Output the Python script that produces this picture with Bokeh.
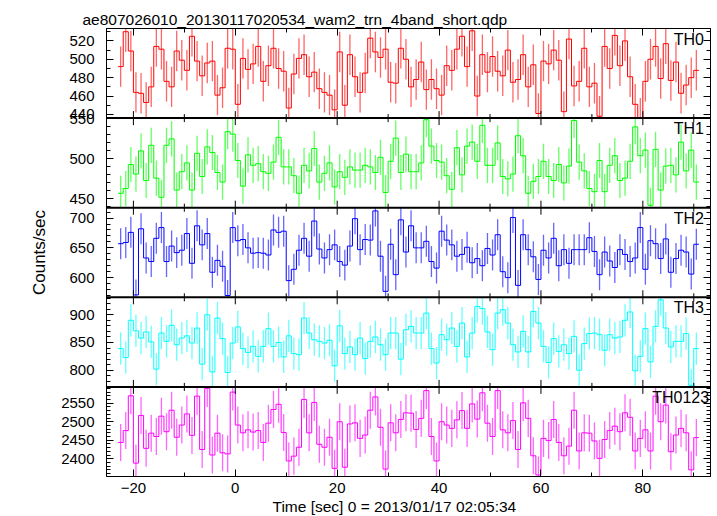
import numpy as np
from bokeh.plotting import figure
from bokeh.models import (Range1d, FixedTicker, LinearAxis, Label, Span, Title,
                          CustomJSTickFormatter)
from bokeh.embed import file_html
from bokeh.resources import INLINE

TITLE = "ae807026010_20130117020534_wam2_trn_4band_short.qdp"
X_LABEL = "Time [sec] 0 = 2013/01/17 02:05:34"
Y_LABEL = "Counts/sec"

# time bins (1 s wide, starting at -23 s)
bin_start = -23.0
bin_width = 1.0

panel_names = ["TH0", "TH1", "TH2", "TH3", "TH0123"]

th0 = [492, 530, 509, 464, 463, 453, 470, 514, 511, 476,
       470, 509, 499, 488, 525, 498, 482, 496, 498, 461,
       469, 512, 511, 451, 501, 489, 495, 514, 476, 493,
       512, 490, 487, 447, 484, 501, 505, 481, 486, 468,
       464, 461, 445, 508, 450, 505, 481, 464, 485, 523,
       508, 502, 511, 475, 474, 512, 500, 470, 478, 497,
       467, 478, 468, 461, 493, 488, 511, 525, 492, 531,
       460, 505, 486, 503, 487, 482, 510, 475, 478, 505,
       470, 494, 441, 498, 495, 510, 499, 443, 522, 471,
       476, 512, 470, 474, 438, 514, 490, 526, 493, 520,
       481, 451, 436, 476, 500, 514, 479, 517, 477, 497,
       463, 472, 480, 488]

th1 = [457, 463, 493, 481, 510, 473, 517, 476, 452, 517,
       525, 461, 484, 495, 461, 507, 478, 515, 508, 483,
       471, 534, 531, 498, 466, 505, 492, 494, 484, 482,
       496, 527, 490, 490, 479, 457, 492, 485, 513, 471,
       482, 495, 465, 484, 477, 490, 486, 486, 492, 490,
       483, 502, 458, 497, 526, 483, 506, 484, 484, 495,
       549, 516, 498, 496, 479, 462, 514, 480, 516, 521,
       497, 542, 492, 492, 520, 478, 475, 481, 529, 504,
       457, 472, 478, 497, 478, 473, 493, 470, 491, 548,
       496, 485, 463, 459, 498, 459, 492, 504, 473, 476,
       497, 540, 504, 511, 442, 512, 461, 491, 492, 480,
       521, 485, 511, 471]

th2 = [657, 659, 676, 571, 682, 633, 627, 666, 684, 627,
       653, 642, 646, 674, 624, 687, 655, 674, 609, 629,
       619, 570, 684, 662, 664, 650, 641, 642, 641, 638,
       680, 676, 678, 595, 614, 646, 666, 636, 695, 648,
       633, 647, 655, 627, 621, 653, 699, 647, 664, 663,
       712, 636, 577, 656, 605, 697, 643, 687, 650, 650,
       661, 627, 616, 678, 663, 655, 636, 639, 651, 625,
       632, 620, 649, 638, 672, 610, 600, 701, 587, 672,
       647, 635, 597, 646, 633, 666, 620, 647, 624, 647,
       647, 647, 667, 644, 605, 643, 628, 617, 647, 639,
       627, 633, 684, 614, 662, 657, 632, 665, 609, 632,
       646, 643, 606, 656]

th3 = [839, 823, 890, 871, 858, 869, 851, 802, 867, 852,
       881, 846, 858, 862, 849, 876, 811, 900, 797, 894,
       857, 796, 849, 878, 839, 832, 843, 825, 843, 875,
       843, 850, 824, 862, 830, 828, 894, 867, 855, 852,
       849, 854, 808, 880, 830, 842, 828, 858, 821, 852,
       860, 846, 828, 867, 867, 820, 873, 879, 867, 867,
       903, 839, 813, 864, 855, 876, 843, 885, 824, 867,
       915, 911, 869, 837, 903, 909, 885, 846, 833, 870,
       833, 906, 885, 843, 814, 857, 834, 846, 830, 861,
       800, 848, 866, 867, 864, 836, 864, 858, 860, 890,
       905, 799, 825, 875, 815, 879, 927, 876, 842, 852,
       852, 866, 773, 839]

th0123 = [2444, 2476, 2570, 2388, 2517, 2428, 2469, 2460, 2515, 2473,
          2531, 2458, 2491, 2521, 2463, 2569, 2425, 2590, 2410, 2469,
          2416, 2413, 2580, 2491, 2470, 2478, 2472, 2476, 2444, 2496,
          2533, 2547, 2471, 2394, 2407, 2431, 2560, 2470, 2552, 2439,
          2431, 2458, 2374, 2500, 2377, 2494, 2497, 2455, 2464, 2531,
          2567, 2485, 2372, 2497, 2470, 2506, 2524, 2523, 2479, 2509,
          2584, 2460, 2394, 2500, 2491, 2482, 2505, 2530, 2482, 2548,
          2507, 2578, 2496, 2460, 2584, 2478, 2470, 2503, 2425, 2551,
          2509, 2408, 2356, 2455, 2449, 2506, 2444, 2408, 2434, 2531,
          2421, 2470, 2469, 2448, 2401, 2452, 2476, 2488, 2473, 2524,
          2512, 2421, 2455, 2478, 2421, 2569, 2500, 2545, 2419, 2464,
          2482, 2470, 2370, 2457]

# half-length of the error bars
errors = [22, 22, 26, 29, 50]

y_limits = [(436, 533.5), (439, 551), (567, 717.4), (770, 931.4), (2352, 2594)]
y_major = [[440, 460, 480, 500, 520], [450, 500, 550], [600, 650, 700],
           [800, 850, 900], [2400, 2450, 2500, 2550]]
y_minor_step = 10
x_major = [-20, 0, 20, 40, 60, 80]
x_minor = [-20, -10, 0, 10, 20, 30, 40, 50, 60, 70, 80, 90]
x_limits = (-25.28, 93.28)

colors = ["#ff0000", "#00ff00", "#0000ff", "#00ffff", "#ff00ff"]
series = [th0, th1, th2, th3, th0123]
label_x = [92.0, 92.0, 92.0, 92.0, 93.0]

FONT = "Liberation Sans"
W, H = 717, 516
B_LEFT, B_RIGHT, B_TOP, B_BOTTOM = 106, 7, 28, 40
n = len(series)
band_px = (H - B_TOP - B_BOTTOM) / n
MAJ_IN, MIN_IN = 7, 4

p = figure(width=W, height=H, x_range=Range1d(*x_limits), y_range=Range1d(0, n),
           output_backend="svg", toolbar_location=None,
           x_axis_location=None, y_axis_location=None,
           min_border_left=B_LEFT, min_border_right=B_RIGHT,
           min_border_top=B_TOP, min_border_bottom=B_BOTTOM)
p.grid.visible = False
p.outline_line_color = "black"
p.outline_line_width = 1
p.background_fill_color = "white"
p.border_fill_color = "white"

# each panel gets its own y range so that it fills one horizontal band
extra = {}
for i in range(n):
    lo, hi = y_limits[i]
    span = hi - lo
    extra[panel_names[i]] = Range1d(lo - (n - 1 - i) * span, hi + i * span)
p.extra_y_ranges = extra

# shared left/right tick positions in band coordinates (band k = n-1-i)
maj_pos, min_pos = [], []
for i in range(n):
    lo, hi = y_limits[i]
    span = hi - lo
    k = n - 1 - i
    for v in y_major[i]:
        maj_pos.append(k + (v - lo) / span)
    v = np.ceil(lo / y_minor_step) * y_minor_step
    while v < hi:
        min_pos.append(k + (v - lo) / span)
        v += y_minor_step

los = [float(l) for l, h in y_limits]
spans = [float(h - l) for l, h in y_limits]
yfmt = CustomJSTickFormatter(args=dict(los=los, spans=spans, n=n), code="""
    const k = Math.max(0, Math.min(n - 1, Math.floor(tick)));
    const i = n - 1 - k;
    const v = los[i] + (tick - k) * spans[i];
    return Math.round(v).toString();
""")
blank = CustomJSTickFormatter(code="return ''")


def style_axis(ax, show_labels):
    ax.major_tick_in = MAJ_IN
    ax.major_tick_out = 0
    ax.minor_tick_in = MIN_IN
    ax.minor_tick_out = 0
    ax.axis_line_color = "black"
    ax.major_tick_line_color = "black"
    ax.minor_tick_line_color = "black"
    if show_labels:
        ax.major_label_text_font = FONT
        ax.major_label_text_font_size = "15px"
        ax.major_label_text_color = "black"
    else:
        ax.formatter = blank
        ax.major_label_text_font_size = "0px"
        ax.major_label_standoff = 0


yl = LinearAxis(ticker=FixedTicker(ticks=maj_pos, minor_ticks=min_pos), formatter=yfmt)
style_axis(yl, True)
yl.major_label_standoff = 12
yl.axis_label = Y_LABEL
yl.axis_label_text_font = FONT
yl.axis_label_text_font_size = "17px"
yl.axis_label_text_font_style = "normal"
yl.axis_label_text_color = "black"
yl.axis_label_standoff = 9
p.add_layout(yl, "left")

yr = LinearAxis(ticker=FixedTicker(ticks=maj_pos, minor_ticks=min_pos))
style_axis(yr, False)
p.add_layout(yr, "right")

xa = LinearAxis(ticker=FixedTicker(ticks=x_major, minor_ticks=x_minor))
style_axis(xa, False)
p.add_layout(xa, "above")

xb = LinearAxis(ticker=FixedTicker(ticks=x_major, minor_ticks=x_minor))
style_axis(xb, True)
xb.major_label_standoff = 6
p.add_layout(xb, "below")

# x-axis title as a "below" title, left-aligned and shifted to sit where the reference has it
p.add_layout(Title(text=X_LABEL, align="left", offset=166, standoff=0,
                   text_font=FONT, text_font_size="15.5px", text_font_style="normal",
                   text_color="black"), "below")

for i in range(n):
    name = panel_names[i]
    lo, hi = y_limits[i]
    span = hi - lo
    vals = np.array(series[i], dtype=float)
    nb = len(vals)
    edges = bin_start + bin_width * np.arange(nb + 1)
    centers = edges[:-1] + bin_width / 2
    ystep = np.append(vals, vals[-1])

    p.segment(x0=centers, y0=np.clip(vals - errors[i], lo, hi),
              x1=centers, y1=np.clip(vals + errors[i], lo, hi),
              line_color=colors[i], line_alpha=0.6, line_width=1.3,
              y_range_name=name)
    p.step(x=edges, y=ystep, mode="after", line_color=colors[i], line_width=1,
           y_range_name=name)

    # inward x ticks on the panel separators
    per_px = span / band_px
    xs = x_major + [t for t in x_minor if t not in x_major]
    ls = [MAJ_IN] * len(x_major) + [MIN_IN] * (len(xs) - len(x_major))
    if i > 0:
        p.segment(x0=xs, x1=xs, y0=[hi] * len(xs), y1=[hi - L * per_px for L in ls],
                  line_color="black", line_width=1, y_range_name=name)
    if i < n - 1:
        p.segment(x0=xs, x1=xs, y0=[lo] * len(xs), y1=[lo + L * per_px for L in ls],
                  line_color="black", line_width=1, y_range_name=name)
        p.add_layout(Span(location=lo, dimension="width", y_range_name=name,
                          line_color="black", line_width=2))

    p.add_layout(Label(x=label_x[i], y=hi, y_offset=-2, y_range_name=name,
                       text=name, text_align="right", text_baseline="top",
                       text_font=FONT, text_font_size="16px", text_color="black"))

p.title.text = TITLE
p.title.text_font = FONT
p.title.text_font_size = "15.5px"
p.title.text_font_style = "normal"
p.title.text_color = "black"
p.title.align = "left"
p.title.standoff = 2
p.title.offset = -24

open("out.html", "w").write(file_html(p, INLINE))
